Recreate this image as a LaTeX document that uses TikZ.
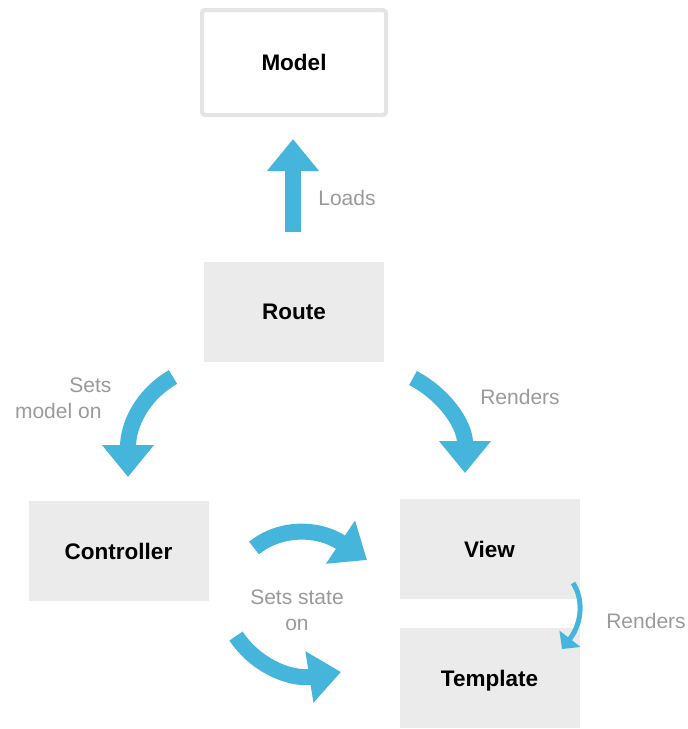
\documentclass[tikz,border=0pt]{standalone}
\usepackage{fontspec}
\setmainfont{Liberation Sans}
\usetikzlibrary{arrows.meta}
\definecolor{flowblue}{HTML}{46B5DB}
\definecolor{boxgray}{HTML}{EBEBEB}
\definecolor{rimgray}{HTML}{E4E4E4}
\definecolor{notegray}{HTML}{9A9A9A}
\tikzset{
    box/.style={rectangle, fill=boxgray, minimum width=180pt, minimum height=100pt,
        text depth=0pt, font=\fontsize{22.5}{26}\selectfont\bfseries},
    modelbox/.style={box, fill=white, draw=rimgray, line width=4pt, rounded corners=3pt,
        minimum width=184pt, minimum height=105pt},
    flow/.style={flowblue, line width=16pt, -{Triangle[width=50pt,length=32pt]}},
    thinflow/.style={flowblue, line width=5pt, -{Triangle[width=26pt,length=13pt]}},
    note/.style={notegray, font=\fontsize{21}{26}\selectfont, align=center}
}
\begin{document}
\begin{tikzpicture}[x=1pt, y=-1pt]
                \useasboundingbox
                    (0,0) rectangle (688,729);
                \node[modelbox] (model)
                    at (294,62.5) {Model};
                \node[box] (route)
                    at (294,312) {Route};
                \node[box] (controller)
                    at (118.5,551) {Controller};
                \node[box] (view)
                    at (489.5,549) {View};
                \node[box] (template)
                    at (489.5,678) {Template};
                \coordinate (loadsfrom) at (293,232);
                \coordinate (loadsto) at (293,139);
                \coordinate (setsfrom) at (173,377);
                \coordinate (setsto) at (128,477);
                \coordinate (rendfrom) at (413,378);
                \coordinate (rendto) at (465,473);
                \coordinate (statefrom) at (254,548);
                \coordinate (stateto) at (367,560);
                \coordinate (tplfrom) at (236,636);
                \coordinate (tplto) at (341,672);
                \coordinate (viewfrom) at (573,583);
                \coordinate (viewto) at (562,649);
                \path[draw, flow]
                    (loadsfrom) -- (loadsto);
                \path[draw, flow]
                    (setsfrom) .. controls (142,395) and (128,425) .. (setsto);
                \path[draw, flow]
                    (rendfrom) .. controls (445,395) and (465,425) .. (rendto);
                \path[draw, flow]
                    (statefrom) .. controls (280,527) and (318,527) .. (stateto);
                \path[draw, flow]
                    (tplfrom) .. controls (255,665) and (290,680) .. (tplto);
                \path[draw, thinflow]
                    (viewfrom) .. controls (583,598) and (583,622) .. (viewto);
                \node[note] (loadsnote)
                    at (347,198) {Loads};
                \node[note, align=right, anchor=east] (setsnote)
                    at (115,398) {Sets\\model on\hspace*{10pt}};
                \node[note] (rendnote)
                    at (520,397) {Renders};
                \node[note] (statenote)
                    at (297,610) {Sets state\\on};
                \node[note] (tplnote)
                    at (646,621) {Renders};
\end{tikzpicture}
\end{document}
